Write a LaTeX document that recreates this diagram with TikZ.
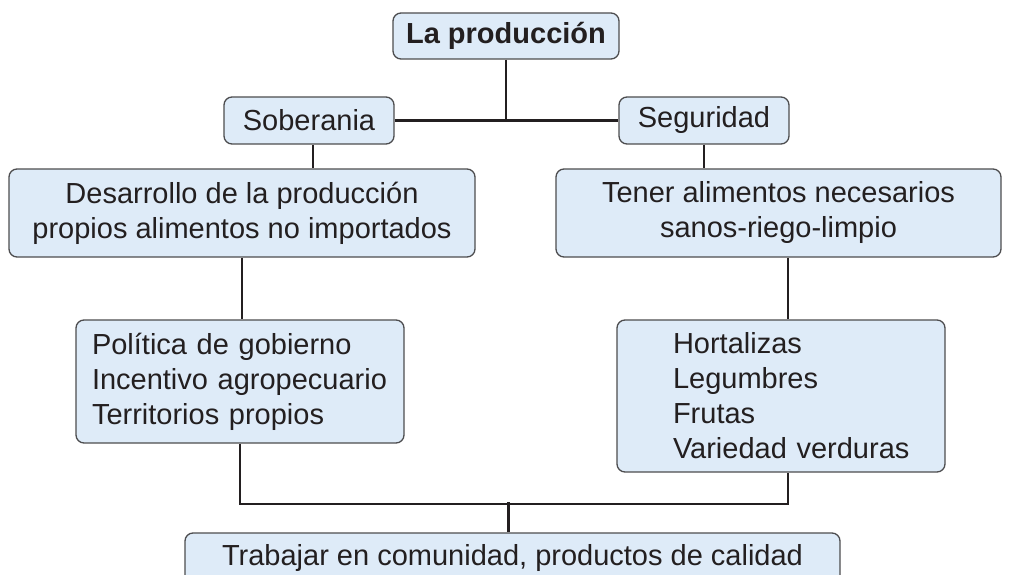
\documentclass[tikz,border=0pt]{standalone}
\usepackage{fontspec}
\setmainfont{Liberation Sans}
\usepackage{tikz}
\usetikzlibrary{positioning, calc, backgrounds}
\definecolor{boxfill}{HTML}{DEEBF8}
\definecolor{boxline}{HTML}{4D4D4F}
\definecolor{inkcolor}{HTML}{231F20}

\begin{document}
\begin{tikzpicture}[x=1pt, y=-1pt,
  box/.style={draw=boxline, line width=1.3pt, rounded corners=8pt, fill=boxfill,
    text=inkcolor, font=\fontsize{29}{35}\selectfont, align=center, inner sep=0pt,
    minimum width=#1},
  listbox/.style={box=328pt, align=left, text width=296pt, inner xsep=16pt},
  link/.style={draw=inkcolor, line width=2.2pt},
]
  \useasboundingbox (0,0) rectangle (1009,575);

  \node[box=226pt, minimum height=46pt, font=\fontsize{29}{35}\selectfont\bfseries] (prod) at (506,36) {La producción};
  \node[box=170pt, minimum height=47pt] (sob) at (309,120.5) {Soberania};
  \node[box=170pt, minimum height=47pt] (seg) at (704,120.5) {Seguridad};
  \node[box=466pt, minimum height=88pt] (des) at (242,213) {Desarrollo de la producción\\propios alimentos no importados};
  \node[box=445pt, minimum height=88pt] (ten) at (778.5,213) {Tener alimentos necesarios\\sanos-riego-limpio};
  \node[listbox, minimum height=123pt] (pol) at (240,381.5) {Política de gobierno\\Incentivo agropecuario\\Territorios propios};
  \node[listbox, minimum height=152pt] (hor) at (781,396) {\leftskip=40pt Hortalizas\\Legumbres\\Frutas\\Variedad verduras\par};
  \node[box=655pt, minimum height=50pt] (tra) at (512.5,558) {Trabajar en comunidad, productos de calidad};

  \coordinate (sobBot) at ([xshift=4pt]sob.south);
  \coordinate (horTop) at ([xshift=7pt]hor.north);
  \coordinate (horBot) at ([xshift=7pt]hor.south);
  \coordinate (traTop) at ([xshift=-4pt]tra.north);

  \begin{scope}[on background layer]
    \draw[link] (sob.east) -- (seg.west);
    \draw[link] (prod.south) -- (prod.south |- sob.east);
    \draw[link] (sobBot) -- (sobBot |- des.north);
    \draw[link] (seg.south) -- (seg.south |- ten.north);
    \draw[link] (des.south) -- (des.south |- pol.north);
    \draw[link] (horTop |- ten.south) -- (horTop);
    \draw[link] (pol.south) -- ++(0,60) -| (horBot);
    \draw[link] (traTop) -- ++(0,-30);
  \end{scope}
\end{tikzpicture}
\end{document}
